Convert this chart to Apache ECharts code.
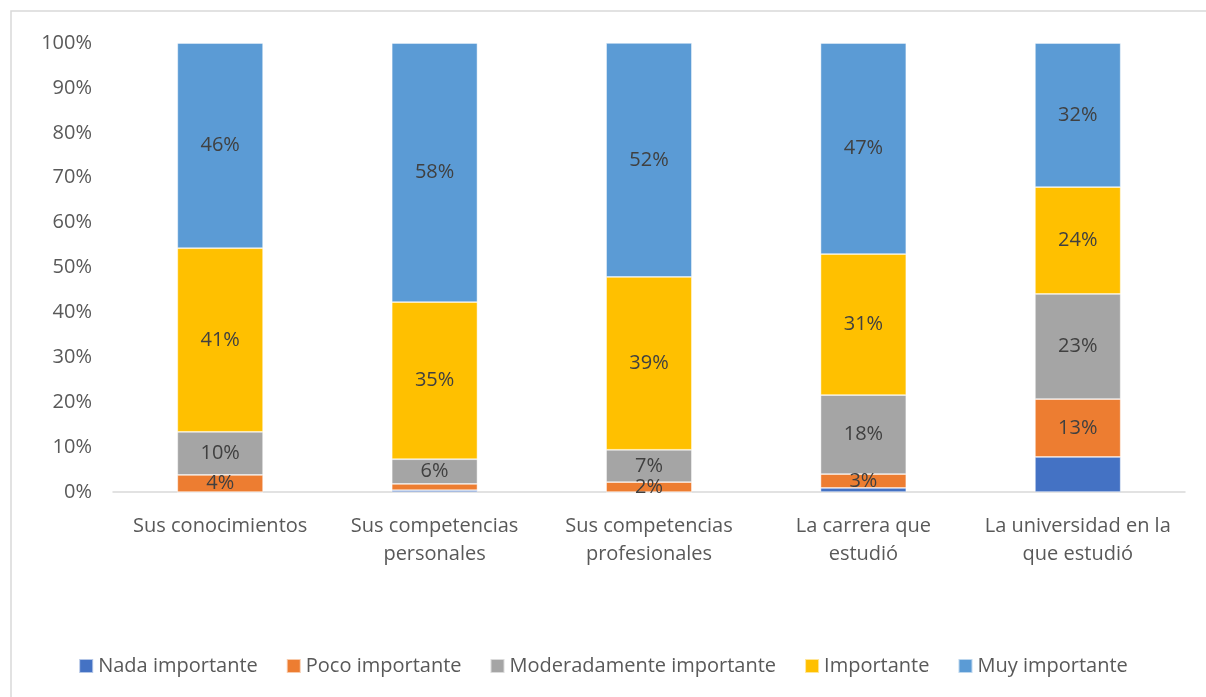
<!DOCTYPE html>
<html>
<head>
<meta charset="utf-8">
<script src="https://cdn.jsdelivr.net/npm/echarts@6/dist/echarts.min.js"></script>
<style>
  html, body { margin: 0; padding: 0; background: #fff; }
  #chart { width: 1206px; height: 697px; }
</style>
</head>
<body>
<div id="chart"></div>
<script>
// categories (x axis)
var categories = ['Sus conocimientos', 'Sus competencias\npersonales', 'Sus competencias\nprofesionales',
  'La carrera que\nestudió', 'La universidad en la\nque estudió'];
var seriesNames = ['Nada importante', 'Poco importante', 'Moderadamente importante', 'Importante', 'Muy importante'];
var colors = ['#4472C4', '#ED7D31', '#A5A5A5', '#FFC000', '#5B9BD5'];

// segment heights in percent
var nada      = [0,    0.4,  0,    0.9,  7.8];
var poco      = [3.8,  1.4,  2.2,  3.1,  12.9];
var moderada  = [9.6,  5.5,  7.2,  17.6, 23.4];
var importante = [40.9, 35.0, 38.5, 31.4, 23.8];
var muy       = [45.7, 57.7, 52.1, 47.0, 32.1];

// label text shown on each segment (null = no label)
var nadaLbl  = [null, null, null, null, null];
var pocoLbl  = ['4%', null, '2%', '3%', '13%'];
var modLbl   = ['10%', '6%', '7%', '18%', '23%'];
var impLbl   = ['41%', '35%', '39%', '31%', '24%'];
var muyLbl   = ['46%', '58%', '52%', '47%', '32%'];

var yTicks = [0, 10, 20, 30, 40, 50, 60, 70, 80, 90, 100];

var allValues = [nada, poco, moderada, importante, muy];
var allLabels = [nadaLbl, pocoLbl, modLbl, impLbl, muyLbl];

var font = 'Open Sans';
var fs = 20;
var series = [];
for (var i = 0; i < seriesNames.length; i++) {
  (function (idx) {
    series.push({
      name: seriesNames[idx],
      type: 'bar',
      stack: 'total',
      barWidth: '40%',
      data: allValues[idx],
      itemStyle: { color: colors[idx], borderColor: 'rgba(255,255,255,0.6)', borderWidth: 0.75 },
      label: {
        show: true,
        position: 'inside',
        color: '#404040',
        fontFamily: font,
        fontSize: fs,
        formatter: function (p) {
          var t = allLabels[idx][p.dataIndex];
          return t == null ? '' : t;
        }
      },
      labelLayout: { hideOverlap: false }
    });
  })(i);
}

var myChart = echarts.init(document.getElementById('chart'));
myChart.setOption({
  animation: false,
  color: colors,
  graphic: [{
    type: 'rect',
    shape: { x: 11, y: 11, width: 1220, height: 720 },
    style: { fill: 'none', stroke: '#D9D9D9', lineWidth: 1.5 },
    silent: true
  }],
  grid: { left: 113, right: 21, top: 43, bottom: 205 },
  legend: {
    bottom: 16,
    left: 'center',
    itemWidth: 14,
    itemHeight: 14,
    itemGap: 28,
    icon: 'rect',
    textStyle: { color: '#595959', fontFamily: font, fontSize: fs },
    data: seriesNames
  },
  xAxis: {
    type: 'category',
    data: categories,
    axisLine: { lineStyle: { color: '#D9D9D9', width: 1.5 } },
    axisTick: { show: false },
    axisLabel: { interval: 0, color: '#595959', fontFamily: font, fontSize: fs, margin: 20, lineHeight: 28 }
  },
  yAxis: {
    type: 'value',
    min: yTicks[0],
    max: yTicks[yTicks.length - 1],
    interval: 10,
    axisLine: { show: false },
    axisTick: { show: false },
    splitLine: { show: false },
    axisLabel: { color: '#595959', fontFamily: font, fontSize: fs, margin: 21, formatter: '{value}%' }
  },
  series: series
});
</script>
</body>
</html>
